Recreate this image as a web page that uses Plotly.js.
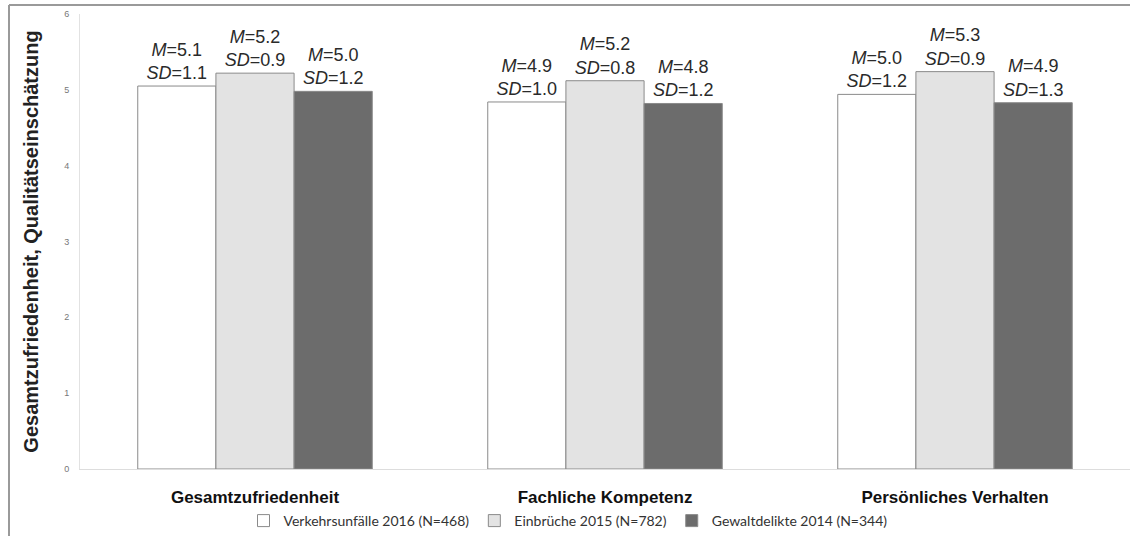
<!DOCTYPE html>
<html>
<head>
<meta charset="utf-8">
<script src="https://cdn.plot.ly/plotly-3.0.1.min.js"></script>
<style>
  html, body { margin: 0; padding: 0; background: #fff; }
  #chart { width: 1130px; height: 536px; }
</style>
</head>
<body>
<div id="chart"></div>
<script>
// ---- data ----
const categories = ['Gesamtzufriedenheit', 'Fachliche Kompetenz', 'Persönliches Verhalten'];
const seriesNames = ['Verkehrsunfälle 2016 (N=468)', 'Einbrüche 2015 (N=782)', 'Gewaltdelikte 2014 (N=344)'];
const heights2016 = [5.05, 4.84, 4.94];
const heights2015 = [5.22, 5.12, 5.24];
const heights2014 = [4.98, 4.82, 4.83];
const mean2016 = ['5.1', '4.9', '5.0'];
const mean2015 = ['5.2', '5.2', '5.3'];
const mean2014 = ['5.0', '4.8', '4.9'];
const sd2016 = ['1.1', '1.0', '1.2'];
const sd2015 = ['0.9', '0.8', '0.9'];
const sd2014 = ['1.2', '1.2', '1.3'];
const yTitle = 'Gesamtzufriedenheit, Qualitätseinschätzung';

// ---- styling ----
const W = 1130, H = 536;
const M = {l: 80, r: 0, t: 14, b: 67};
const fills = ['#ffffff', '#e3e3e3', '#6c6c6c'];
const labelFont = 'Arial, "Liberation Sans", sans-serif';

function labels(means, sds) {
  return means.map((m, i) => '<i>M</i>=' + m + '<br><i>SD</i>=' + sds[i]);
}

const heights = [heights2016, heights2015, heights2014];
const texts = [labels(mean2016, sd2016), labels(mean2015, sd2015), labels(mean2014, sd2014)];

const traces = heights.map((h, k) => ({
  type: 'bar',
  name: seriesNames[k],
  x: categories,
  y: h,
  text: texts[k],
  texttemplate: '%{text}',
  textposition: 'outside',
  constraintext: 'none',
  cliponaxis: false,
  textfont: {family: labelFont, size: 18, color: '#2a2a2a'},
  marker: {color: fills[k], line: {color: '#8a8a8a', width: 1}},
  hoverinfo: 'skip'
}));

// border (top & left) in paper coords
const pw = W - M.l - M.r, ph = H - M.t - M.b;
const px = v => (v - M.l) / pw;
const py = v => (H - M.b - v) / ph;

const layout = {
  width: W, height: H,
  margin: M,
  paper_bgcolor: '#ffffff',
  plot_bgcolor: '#ffffff',
  barmode: 'group',
  bargap: 0.33,
  bargroupgap: 0,
  showlegend: true,
  legend: {
    orientation: 'h',
    xref: 'container', yref: 'container',
    x: 568 / W, xanchor: 'center',
    y: 1 - 521 / H, yanchor: 'middle',
    bgcolor: 'rgba(0,0,0,0)',
    font: {family: 'Lato, "Open Sans", sans-serif', size: 14, color: '#333'},
    itemwidth: 30,
    traceorder: 'normal'
  },
  xaxis: {
    type: 'category',
    showline: true, linecolor: '#dddddd', linewidth: 1,
    ticks: '', showgrid: false,
    tickfont: {family: labelFont, size: 17, color: '#111', weight: 'bold'},
    ticklabelstandoff: 13
  },
  yaxis: {
    range: [0, 6], dtick: 1,
    showline: true, linecolor: '#e2e2e2', linewidth: 1,
    showgrid: false, zeroline: false, ticks: '',
    tickfont: {family: labelFont, size: 9, color: '#777'},
    ticklabelstandoff: 8,
    title: {text: '<b>' + yTitle + '</b>', font: {family: labelFont, size: 20, color: '#222'}, standoff: 20}
  },
  shapes: [
    {type: 'line', xref: 'paper', yref: 'paper', x0: px(9), x1: px(1130), y0: py(5), y1: py(5), line: {color: '#9a9a9a', width: 2}},
    {type: 'line', xref: 'paper', yref: 'paper', x0: px(9), x1: px(9), y0: py(5), y1: py(536), line: {color: '#9a9a9a', width: 2}}
  ]
};

Plotly.newPlot('chart', traces, layout, {displayModeBar: false, staticPlot: true});
</script>
</body>
</html>
